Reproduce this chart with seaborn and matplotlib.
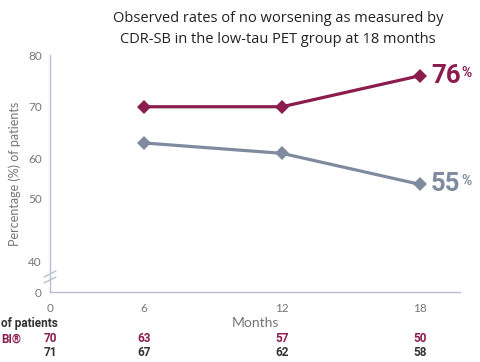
import numpy as np
import pandas as pd
import matplotlib
matplotlib.use("Agg")
import matplotlib.pyplot as plt
import matplotlib.transforms as mtransforms
import seaborn as sns

# Observed rates (%) by visit month
months = [6, 12, 18]
leqembi_pct = [70, 70, 76]
placebo_pct = [63, 61, 55]

# Number of patients at each visit
table_months = [0, 6, 12, 18]
leqembi_n = [70, 63, 57, 50]
placebo_n = [71, 67, 62, 58]

x_ticks = [0, 6, 12, 18]
y_ticks = [0, 40, 50, 60, 70, 80]

RED = "#8b1c4e"
GREY = "#808a9f"
AXIS = "#b9c0cd"
TEXT = "#757575"
DARK = "#333333"
BOLD = ["Roboto", "DejaVu Sans"]

sns.set_theme(style="white")
plt.rcParams["font.family"] = ["Lato", "DejaVu Sans"]

df = pd.concat([
    pd.DataFrame({"month": months, "pct": leqembi_pct, "group": "LEQEMBI"}),
    pd.DataFrame({"month": months, "pct": placebo_pct, "group": "Placebo"}),
])

fig = plt.figure(figsize=(4.81, 3.62), dpi=100)
ax = fig.add_axes([50 / 481, 1 - 292 / 362, 410 / 481, 237 / 362])

sns.lineplot(data=df, x="month", y="pct", hue="group",
             palette={"LEQEMBI": RED, "Placebo": GREY},
             marker="D", markersize=7, markeredgewidth=0, linewidth=2.3,
             legend=False, ax=ax)

# Compressed segments: months 0-6 on x, and 0-40 % on y (broken axis)
cx = 4.087 / 6
cy = 0.145


def fx(x):
    x = np.asarray(x, dtype=float)
    return np.where(x < 6, 6 - (6 - x) * cx, x)


def ix(t):
    t = np.asarray(t, dtype=float)
    return np.where(t < 6, 6 - (6 - t) / cx, t)


def fy(y):
    y = np.asarray(y, dtype=float)
    return np.where(y < 40, 40 - (40 - y) * cy, y)


def iy(t):
    t = np.asarray(t, dtype=float)
    return np.where(t < 40, 40 - (40 - t) / cy, t)


ax.set_xscale("function", functions=(fx, ix))
ax.set_yscale("function", functions=(fy, iy))
ax.set_xlim(0, 19.74)
ax.set_ylim(0, 80)
ax.set_xticks(x_ticks)
ax.set_xticklabels([str(v) for v in x_ticks])
ax.set_yticks(y_ticks)
ax.set_yticklabels([str(v) for v in y_ticks])
ax.minorticks_off()

for side in ("top", "right"):
    ax.spines[side].set_visible(False)
for side in ("left", "bottom"):
    ax.spines[side].set_color(AXIS)
    ax.spines[side].set_linewidth(1.0)
ax.tick_params(axis="both", direction="out", length=4, width=1.0, color=AXIS,
               labelcolor=TEXT, labelsize=8.5, pad=2)
ax.tick_params(axis="x", pad=4)
ax.grid(False)

# "50" label sits a little above its tick
for lab in ax.get_yticklabels():
    if lab.get_text() == "50":
        lab.set_transform(lab.get_transform() +
                          mtransforms.ScaledTranslation(0, 12 / 100, fig.dpi_scale_trans))

ax.set_xlabel("Months", color=TEXT, fontsize=10, labelpad=2)
ax.set_ylabel("Percentage (%) of patients", color=TEXT, fontsize=9)
ax.yaxis.set_label_coords(-0.07, 0.5)

# Axis break marks
for yb in (274, 280):
    y0 = 1 - (yb + 3) / 362
    y1 = 1 - (yb - 3) / 362
    fig.add_artist(plt.Line2D([44 / 481, 56 / 481], [y0, y1],
                              color=AXIS, lw=1.0))

# End-point value labels
for vals, col in ((leqembi_pct, RED), (placebo_pct, GREY)):
    off = mtransforms.offset_copy(ax.transData, fig=fig, x=11, y=0, units="dots")
    ax.text(months[-1], vals[-1], f"{vals[-1]}", transform=off,
            color=col, fontsize=18.5, fontweight="bold", family=BOLD,
            ha="left", va="center", clip_on=False)
    off2 = mtransforms.offset_copy(ax.transData, fig=fig, x=41, y=3, units="dots")
    ax.text(months[-1], vals[-1], "%", transform=off2, color=col,
            fontsize=10, fontweight="bold", family=BOLD,
            ha="left", va="center", clip_on=False)

# Title
fig.text(278 / 481, 1 - 29 / 362, "Observed rates of no worsening as measured by\n"
         "CDR-SB in the low-tau PET group at 18 months",
         ha="center", va="center", fontsize=10.5, color="#222222",
         family=["Open Sans", "DejaVu Sans"], linespacing=1.55)

# Number-of-patients table
row_tr = mtransforms.blended_transform_factory(ax.transData, fig.transFigure)
fig.text(1 / 481, 1 - 323 / 362, "of patients", ha="left",
         va="center", fontsize=8.5, fontweight="bold", family=BOLD, color=DARK)
fig.text(1 / 481, 1 - 339 / 362, "BI\u00ae", ha="left", va="center",
         fontsize=8.5, fontweight="bold", family=BOLD, color=RED)
for m, a, b in zip(table_months, leqembi_n, placebo_n):
    ax.text(m, 1 - 339 / 362, str(a), transform=row_tr, ha="center",
            va="center", fontsize=8.5, fontweight="bold", family=BOLD, color=RED)
    ax.text(m, 1 - 353 / 362, str(b), transform=row_tr, ha="center",
            va="center", fontsize=8.5, fontweight="bold", family=BOLD, color=DARK)

fig.savefig("out.png", dpi=100)
